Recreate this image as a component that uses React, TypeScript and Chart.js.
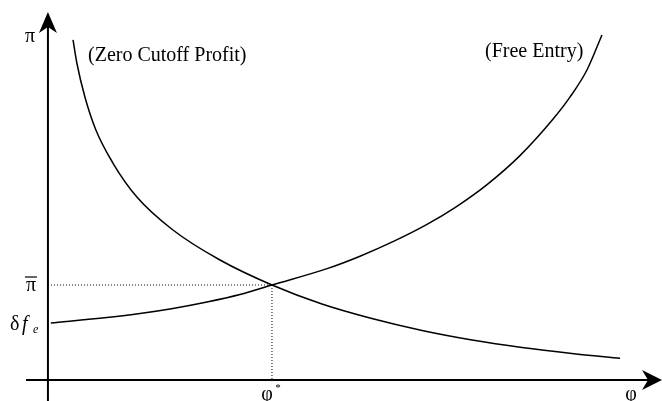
import React, { useEffect, useRef } from "react";
import { Chart, registerables } from "chart.js";

Chart.register(...registerables);

// Axis ranges (abstract units: phi* = 1, pi-bar = 1)
const X_MIN = -0.214;
const X_MAX = 2.741;
const Y_MIN = -0.221;
const Y_MAX = 4.0;

// Zero Cutoff Profit curve (decreasing)
const ZCP_X = [0.112, 0.129, 0.165, 0.214, 0.29, 0.397, 0.558, 0.768, 1.0, 1.223, 1.446, 1.67, 1.893, 2.116, 2.339, 2.554];
const ZCP_Y = [3.579, 3.337, 2.979, 2.632, 2.284, 1.926, 1.579, 1.263, 1.0, 0.8, 0.647, 0.521, 0.421, 0.342, 0.279, 0.228];

// Free Entry curve (increasing)
const FE_X = [0.013, 0.263, 0.411, 0.558, 0.71, 0.857, 1.0, 1.246, 1.393, 1.54, 1.692, 1.817, 1.96, 2.107, 2.254, 2.33, 2.406, 2.473];
const FE_Y = [0.6, 0.658, 0.7, 0.753, 0.821, 0.9, 1.0, 1.172, 1.303, 1.456, 1.638, 1.815, 2.057, 2.362, 2.744, 2.977, 3.263, 3.632];

// Equilibrium
const PHI_STAR = 1;
const PI_BAR = 1;

// Axis extents
const AXIS_X_START = -0.098;
const AXIS_X_END = 2.741;
const AXIS_Y_START = -0.221;
const AXIS_Y_END = 3.874;

const SERIF = '"Liberation Serif", "DejaVu Serif", serif';

const axesPlugin = {
  id: "econAxes",
  afterDatasetsDraw(chart: any) {
    const ctx = chart.ctx;
    const xs = chart.scales.x;
    const ys = chart.scales.y;
    const x0 = xs.getPixelForValue(0);
    const y0 = ys.getPixelForValue(0);
    const xEnd = xs.getPixelForValue(AXIS_X_END);
    const yEnd = ys.getPixelForValue(AXIS_Y_END);
    ctx.save();
    ctx.strokeStyle = "#000";
    ctx.fillStyle = "#000";
    ctx.lineWidth = 2;
    // x axis
    ctx.beginPath();
    ctx.moveTo(xs.getPixelForValue(AXIS_X_START), y0);
    ctx.lineTo(xEnd - 10, y0);
    ctx.stroke();
    // y axis
    ctx.beginPath();
    ctx.moveTo(x0, ys.getPixelForValue(AXIS_Y_START));
    ctx.lineTo(x0, yEnd + 10);
    ctx.stroke();
    // arrow heads
    ctx.beginPath();
    ctx.moveTo(xEnd, y0);
    ctx.lineTo(xEnd - 20, y0 - 10);
    ctx.lineTo(xEnd - 14, y0);
    ctx.lineTo(xEnd - 20, y0 + 10);
    ctx.closePath();
    ctx.fill();
    ctx.beginPath();
    ctx.moveTo(x0, yEnd);
    ctx.lineTo(x0 - 9, yEnd + 21);
    ctx.lineTo(x0, yEnd + 15);
    ctx.lineTo(x0 + 9, yEnd + 21);
    ctx.closePath();
    ctx.fill();

    // labels
    ctx.textAlign = "center";
    ctx.textBaseline = "alphabetic";
    ctx.font = `20px ${SERIF}`;
    ctx.fillText("π", x0 - 18, 42);
    // pi bar
    const yPi = ys.getPixelForValue(PI_BAR);
    ctx.fillText("π", x0 - 17, yPi + 6);
    ctx.lineWidth = 1.2;
    ctx.beginPath();
    ctx.moveTo(x0 - 23, yPi - 8);
    ctx.lineTo(x0 - 11, yPi - 8);
    ctx.stroke();
    // delta f_e
    const yD = ys.getPixelForValue(FE_Y[0]);
    ctx.textAlign = "left";
    ctx.fillText("δ", x0 - 38, yD + 7);
    ctx.font = `italic 20px ${SERIF}`;
    ctx.fillText("f", x0 - 26, yD + 7);
    ctx.font = `italic 12px ${SERIF}`;
    ctx.fillText("e", x0 - 15, yD + 10);
    // phi*
    const xPhi = xs.getPixelForValue(PHI_STAR);
    ctx.textAlign = "center";
    ctx.font = `20px ${SERIF}`;
    ctx.fillText("φ", xPhi - 5, y0 + 20);
    ctx.font = `11px ${SERIF}`;
    ctx.fillText("*", xPhi + 6, y0 + 11);
    ctx.font = `20px ${SERIF}`;
    ctx.fillText("φ", xEnd - 31, y0 + 20);
    // curve labels
    ctx.textAlign = "left";
    ctx.fillText("(Zero Cutoff Profit)", 88, 61);
    ctx.fillText("(Free Entry)", 485, 57);
    ctx.restore();
  },
};

export default function App() {
  const ref = useRef<HTMLCanvasElement | null>(null);
  useEffect(() => {
    if (!ref.current) return;
    const toPts = (xs: number[], ys: number[]) => xs.map((x, i) => ({ x, y: ys[i] }));
    const chart = new Chart(ref.current, {
      type: "scatter",
      data: {
        datasets: [
          {
            data: toPts(ZCP_X, ZCP_Y),
            showLine: true,
            borderColor: "#000",
            borderWidth: 1.5,
            pointRadius: 0,
            cubicInterpolationMode: "monotone",
          } as any,
          {
            data: toPts(FE_X, FE_Y),
            showLine: true,
            borderColor: "#000",
            borderWidth: 1.5,
            pointRadius: 0,
            cubicInterpolationMode: "monotone",
          } as any,
          {
            data: [
              { x: 0, y: PI_BAR },
              { x: PHI_STAR, y: PI_BAR },
            ],
            showLine: true,
            borderColor: "#000",
            borderWidth: 1,
            borderDash: [1, 2],
            pointRadius: 0,
          } as any,
          {
            data: [
              { x: PHI_STAR, y: PI_BAR },
              { x: PHI_STAR, y: 0 },
            ],
            showLine: true,
            borderColor: "#000",
            borderWidth: 1,
            borderDash: [1, 2],
            pointRadius: 0,
          } as any,
        ],
      },
      options: {
        animation: false,
        responsive: false,
        layout: { padding: 0 },
        plugins: { legend: { display: false }, tooltip: { enabled: false } },
        scales: {
          x: { type: "linear", display: false, min: X_MIN, max: X_MAX },
          y: { type: "linear", display: false, min: Y_MIN, max: Y_MAX },
        },
      },
      plugins: [axesPlugin],
    });
    return () => chart.destroy();
  }, []);
  return (
    <div style={{ position: "fixed", left: 0, top: 0, width: 662, height: 401, background: "#fff" }}>
      <canvas ref={ref} width={662} height={401} style={{ display: "block" }} />
    </div>
  );
}
